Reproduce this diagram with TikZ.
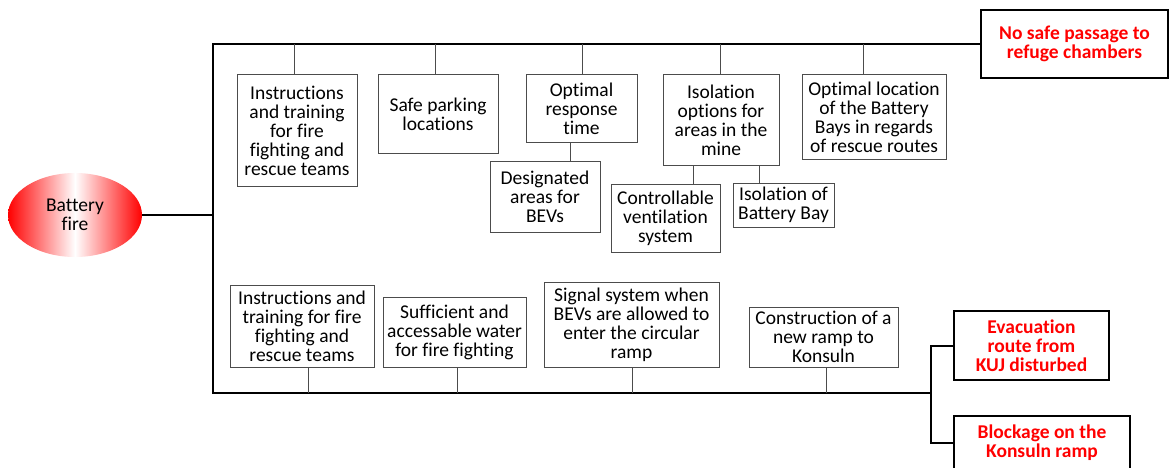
\documentclass[tikz,border=0pt]{standalone}
\usepackage{fontspec}
\setmainfont{Carlito}[Ligatures=NoCommon]
\usepackage{tikz}
\usetikzlibrary{shapes.geometric}

\begin{document}
\begin{tikzpicture}[
    x=1pt, y=-1pt,
    font=\fontsize{19.5}{19}\selectfont,
    blk/.style={draw=black!70, line width=1pt, align=center, inner sep=1pt},
    sev/.style={draw=black, line width=2pt, align=center, inner sep=1pt,
                text=red, font=\fontsize{19.5}{19}\selectfont\bfseries},
    hazard/.style={ellipse, inner sep=0pt, align=center, left color=red, right color=red, middle color=white},
    lnk/.style={draw=black!70, line width=1pt},
    trunk/.style={draw=black, line width=2pt},
  ]
    \useasboundingbox (0,0) rectangle (1170,468);
    \clip (0,0) rectangle (1170,468);

    % ---------- top event ----------
    \node[hazard, minimum width=134pt, minimum height=84pt] (fire) at (75,215) {Battery\\fire};
    \coordinate (tl) at (213,44);
    \coordinate (bl) at (213,393);
    \coordinate (br) at (931,393);

    % ---------- consequences ----------
    \node[sev, minimum width=187pt, minimum height=68pt] (rb1) at (1074.5,44) {No safe passage to\\refuge chambers};
    \node[sev, minimum width=155pt, minimum height=69pt] (rb2) at (1031.5,345.5) {Evacuation\\route from\\KUJ disturbed};
    \node[sev, minimum width=176pt, minimum height=54pt] (rb3) at (1042,443) {Blockage on the\\Konsuln ramp};

    \draw[trunk] (fire.east) -- (fire.east -| bl);
    \draw[trunk] (rb1.west) -- (tl) -- (bl) -- (br);
    \draw[trunk] (rb2.west) -| (br) |- (rb3.west);

    % ---------- upper barriers ----------
    \node[blk, minimum width=120pt, minimum height=111pt] (t1)  at (297,130.5) {Instructions\\and training\\for fire\\fighting and\\rescue teams};
    \node[blk, minimum width=120pt, minimum height=79pt]  (t2)  at (438,114.5) {Safe parking\\locations};
    \node[blk, minimum width=111pt, minimum height=68pt]  (t3)  at (581.5,109) {Optimal\\response\\time};
    \node[blk, minimum width=110pt, minimum height=70pt]  (t3a) at (545,197)   {Designated\\areas for\\BEVs};
    \node[blk, minimum width=116pt, minimum height=91pt]  (t4)  at (721,120.5) {Isolation\\options for\\areas in the\\mine};
    \node[blk, minimum width=109pt, minimum height=68pt]  (t4a) at (665.5,218) {Controllable\\ventilation\\system};
    \node[blk, minimum width=101pt, minimum height=44pt]  (t4b) at (783.5,205) {Isolation of\\Battery Bay};
    \node[blk, minimum width=144pt, minimum height=85pt]  (t5)  at (874,117.5) {Optimal location\\of the Battery\\Bays in regards\\of rescue routes};
    \foreach \n/\x in {t1/294, t2/435, t3/582, t4/720, t5/863}
      \draw[lnk] (\n.north -| \x,0) -- (\x,0 |- tl);
    \draw[lnk] (t3.south -| 570,0) -- (t3a.north -| 570,0);
    \draw[lnk] (t4.south -| 693,0) -- (t4a.north -| 693,0);
    \draw[lnk] (t4.south -| 759,0) -- (t4b.north -| 759,0);

    % ---------- lower barriers ----------
    \node[blk, minimum width=144pt, minimum height=82pt] (d1) at (302,326)   {Instructions and\\training for fire\\fighting and\\rescue teams};
    \node[blk, minimum width=143pt, minimum height=70pt] (d2) at (454.5,332) {Sufficient and\\accessable water\\for fire fighting};
    \node[blk, minimum width=175pt, minimum height=85pt] (d3) at (631.5,324.5) {Signal system when\\BEVs are allowed to\\enter the circular\\ramp};
    \node[blk, minimum width=149pt, minimum height=60pt] (d4) at (823.5,337) {Construction of a\\new ramp to\\Konsuln};
    \foreach \n/\x in {d1/308, d2/457, d3/632, d4/826}
      \draw[lnk] (\n.south -| \x,0) -- (\x,0 |- bl);
  \end{tikzpicture}
\end{document}
